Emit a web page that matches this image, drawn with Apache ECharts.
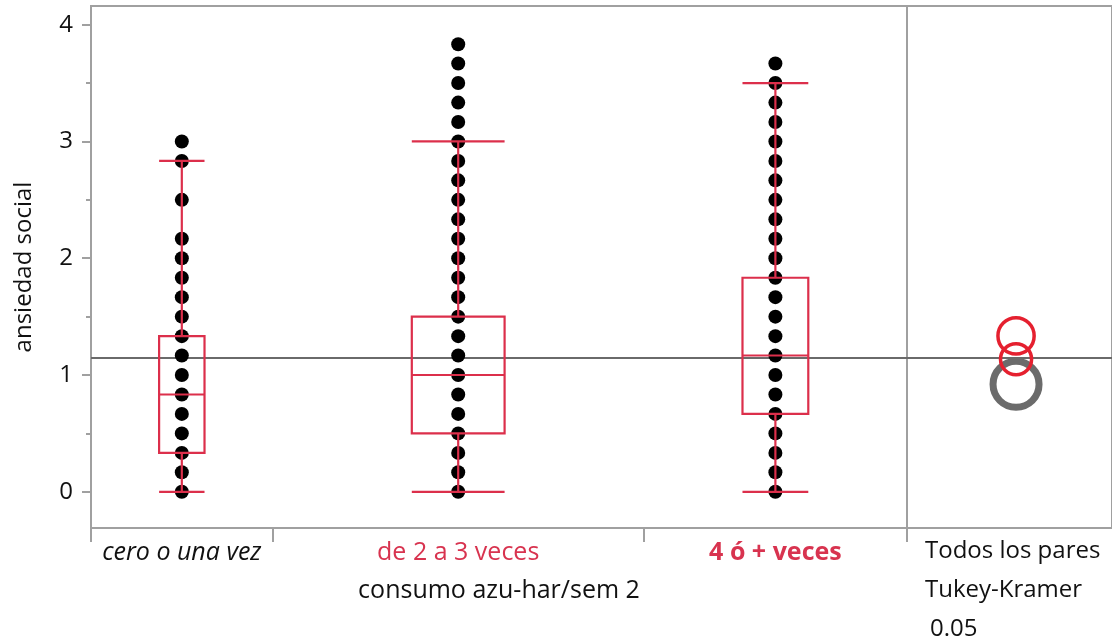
<!DOCTYPE html>
<html><head><meta charset="utf-8">
<script src="https://cdn.jsdelivr.net/npm/echarts@6/dist/echarts.min.js"></script>
<style>html,body{margin:0;padding:0;background:#fff}#c{width:1112px;height:643px}</style>
</head><body><div id="c"></div>
<script>
// ---- data ----
const categories = ['cero o una vez', 'de 2 a 3 veces', '4 ó + veces'];
const groupN = [69, 141, 100];            // estimated group sizes (JMP widths are proportional to n)
const dots1 = [0, 0.167, 0.333, 0.5, 0.667, 0.833, 1, 1.167, 1.333, 1.5, 1.667, 1.833, 2, 2.167, 2.5, 2.833, 3];
const dots2 = [0, 0.167, 0.333, 0.5, 0.667, 0.833, 1, 1.167, 1.333, 1.5, 1.667, 1.833, 2, 2.167, 2.333, 2.5, 2.667, 2.833, 3, 3.167, 3.333, 3.5, 3.667, 3.833];
const dots3 = [0, 0.167, 0.333, 0.5, 0.667, 0.833, 1, 1.167, 1.333, 1.5, 1.667, 1.833, 2, 2.167, 2.333, 2.5, 2.667, 2.833, 3, 3.167, 3.333, 3.5, 3.667];
// [min whisker, Q1, median, Q3, max whisker]
const box1 = [0, 0.333, 0.833, 1.333, 2.833];
const box2 = [0, 0.5, 1, 1.5, 3];
const box3 = [0, 0.667, 1.167, 1.833, 3.5];
const groupMeans = [0.92, 1.135, 1.335];
const circleRadius = [0.197, 0.133, 0.155];   // comparison circle radii in y units
const grandMean = 1.145;
const yTicks = [0, 1, 2, 3, 4];
const yMinorTicks = [0.5, 1.5, 2.5, 3.5];
const yAxisTitle = 'ansiedad social';
const xAxisTitle = 'consumo azu-har/sem 2';
const panelTexts = ['Todos los pares', 'Tukey-Kramer', '0.05'];

// ---- build ----
const dotsByGroup = [dots1, dots2, dots3];
const boxes = [box1, box2, box3];
const starts = [], centers = [];
let acc = 0;
groupN.forEach(n => { starts.push(acc); centers.push(acc + n / 2); acc += n; });
const total = acc;
const boundaries = starts.concat([total]);

const RED = '#dc2f4b', TXTRED = '#d8334f', GREY = '#a0a0a0', CIRCRED = '#e5202f', CIRCGREY = '#6b6b6b';
const FONT = '"Open Sans", "Noto Sans", sans-serif';
const FS = 25;
const BOX_FRAC = 0.25;

const scatterData = [];
dotsByGroup.forEach((arr, i) => arr.forEach(v => scatterData.push([centers[i], v])));
const boxData = boxes.map((b, i) => [centers[i]].concat(b).concat([i]));
const circleData = groupMeans.map((m, i) => [0.5, m, circleRadius[i], i]);
const circleOrder = [0, 2, 1];

const chart = echarts.init(document.getElementById('c'), null, {renderer: 'canvas'});
chart.setOption({
  animation: false,
  backgroundColor: '#fff',
  textStyle: {fontFamily: FONT},
  grid: [
    {left: 91, top: 6, width: 816, bottom: 115, show: true, borderColor: GREY, borderWidth: 2, backgroundColor: 'transparent'},
    {left: 907, top: 6, right: 0, bottom: 115, show: true, borderColor: GREY, borderWidth: 2, backgroundColor: 'transparent'}
  ],
  xAxis: [
    {type: 'value', gridIndex: 0, min: 0, max: total,
     axisLine: {show: true, onZero: false, lineStyle: {color: GREY, width: 2}},
     axisTick: {show: true, customValues: boundaries, length: 14, lineStyle: {color: GREY, width: 2}},
     splitLine: {show: false},
     axisLabel: {show: true, customValues: centers, margin: 12, fontFamily: FONT, fontSize: FS,
       formatter: function (v) {
         let best = 0;
         centers.forEach((c, i) => { if (Math.abs(c - v) < Math.abs(centers[best] - v)) best = i; });
         return '{c' + best + '|' + categories[best] + '}';
       },
       rich: {
         c0: {fontStyle: 'italic', color: '#111', fontSize: FS, fontFamily: FONT},
         c1: {color: TXTRED, fontSize: FS, fontFamily: FONT},
         c2: {color: TXTRED, fontWeight: 'bold', fontSize: FS, fontFamily: FONT}
       }},
     name: xAxisTitle, nameLocation: 'middle', nameGap: 50,
     nameTextStyle: {color: '#111', fontSize: FS, fontFamily: FONT}},
    {type: 'value', gridIndex: 1, min: 0, max: 0.94,
     axisLine: {show: true, onZero: false, lineStyle: {color: GREY, width: 2}},
     axisTick: {show: false}, axisLabel: {show: false}, splitLine: {show: false}}
  ],
  yAxis: [
    {type: 'value', gridIndex: 0, min: -0.31, max: 4.16, position: 'left',
     axisLine: {show: true, onZero: false, lineStyle: {color: GREY, width: 2}},
     axisTick: {show: true, customValues: yTicks, length: 9, lineStyle: {color: GREY, width: 2}},
     axisLabel: {show: true, customValues: yTicks, margin: 18, color: '#111', fontSize: 24, fontFamily: FONT},
     splitLine: {show: false},
     name: yAxisTitle, nameLocation: 'middle', nameGap: 55,
     nameTextStyle: {color: '#111', fontSize: 24, fontFamily: FONT}},
    {type: 'value', gridIndex: 0, min: -0.31, max: 4.16, position: 'left',
     axisLine: {show: false, onZero: false},
     axisTick: {show: true, customValues: yMinorTicks, length: 5, lineStyle: {color: GREY, width: 2}},
     axisLabel: {show: false}, splitLine: {show: false}},
    {type: 'value', gridIndex: 1, min: -0.31, max: 4.16, show: false}
  ],
  series: [
    {type: 'scatter', xAxisIndex: 0, yAxisIndex: 0, data: scatterData, symbol: 'circle', symbolSize: 14,
     itemStyle: {color: '#000', opacity: 1}, z: 3, silent: true,
     markLine: {silent: true, symbol: 'none', z: 1, label: {show: false},
       lineStyle: {color: '#6a6a6a', width: 2, type: 'solid'}, data: [{yAxis: grandMean}]}},
    {type: 'custom', xAxisIndex: 0, yAxisIndex: 0, data: boxData, z: 4, silent: true,
     renderItem: function (params, api) {
       const xc = api.value(0);
       const idx = api.value(6);
       const w = api.size([groupN[idx] * BOX_FRAC, 0])[0];
       const pMin = api.coord([xc, api.value(1)]);
       const pQ1 = api.coord([xc, api.value(2)]);
       const pMed = api.coord([xc, api.value(3)]);
       const pQ3 = api.coord([xc, api.value(4)]);
       const pMax = api.coord([xc, api.value(5)]);
       const x0 = pQ1[0] - w / 2, x1 = pQ1[0] + w / 2;
       const st = {stroke: RED, lineWidth: 2.2, fill: null};
       return {type: 'group', children: [
         {type: 'rect', shape: {x: x0, y: pQ3[1], width: w, height: pQ1[1] - pQ3[1]}, style: st},
         {type: 'line', shape: {x1: x0, y1: pMed[1], x2: x1, y2: pMed[1]}, style: st},
         {type: 'line', shape: {x1: pQ3[0], y1: pQ3[1], x2: pMax[0], y2: pMax[1]}, style: st},
         {type: 'line', shape: {x1: pQ1[0], y1: pQ1[1], x2: pMin[0], y2: pMin[1]}, style: st},
         {type: 'line', shape: {x1: x0, y1: pMax[1], x2: x1, y2: pMax[1]}, style: st},
         {type: 'line', shape: {x1: x0, y1: pMin[1], x2: x1, y2: pMin[1]}, style: st}
       ]};
     }},
    {type: 'custom', xAxisIndex: 1, yAxisIndex: 2, data: circleOrder.map(i => circleData[i]), z: 4, silent: true,
     renderItem: function (params, api) {
       const c = api.coord([api.value(0), api.value(1)]);
       const r = api.size([0, api.value(2)])[1];
       const idx = api.value(3);
       const grey = idx === 0;
       return {type: 'circle', shape: {cx: c[0], cy: c[1], r: r},
         style: {fill: null, stroke: grey ? CIRCGREY : CIRCRED, lineWidth: grey ? 7 : 3.5}};
     },
     markLine: {silent: true, symbol: 'none', z: 1, label: {show: false},
       lineStyle: {color: '#6a6a6a', width: 2, type: 'solid'}, data: [{yAxis: grandMean}]}}
  ],
  graphic: [
    {type: 'text', left: 925, top: 539, style: {text: panelTexts[0], fill: '#111', font: '24px ' + FONT}},
    {type: 'text', left: 925, top: 578, style: {text: panelTexts[1], fill: '#111', font: '24px ' + FONT}},
    {type: 'text', left: 930, top: 617, style: {text: panelTexts[2], fill: '#111', font: '24px ' + FONT}}
  ]
});
</script></body></html>
